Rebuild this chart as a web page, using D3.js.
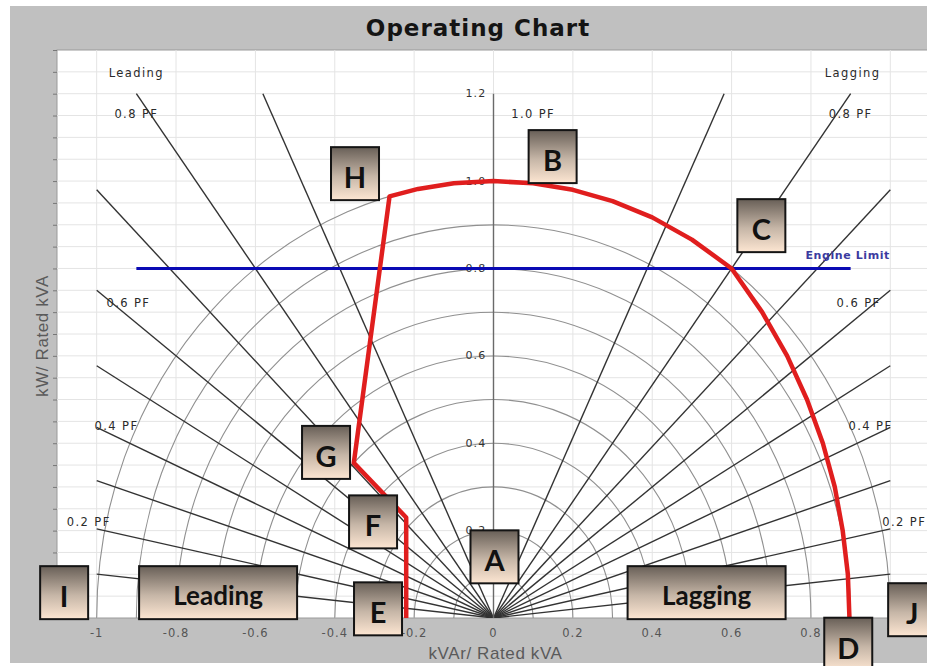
<!DOCTYPE html>
<html>
<head>
<meta charset="utf-8">
<script src="https://cdn.jsdelivr.net/npm/d3@7"></script>
<style>
  html, body { margin: 0; padding: 0; background: #ffffff; }
  svg { display: block; }
</style>
</head>
<body>
<svg id="chart" width="927" height="666"></svg>
<script>
// ---- data ----
const xTickValues = [-1, -0.8, -0.6, -0.4, -0.2, 0, 0.2, 0.4, 0.6, 0.8, 1];
const xTickLabels = ["-1", "-0.8", "-0.6", "-0.4", "-0.2", "0", "0.2", "0.4", "0.6", "0.8", "1"];
const yTickValues = [0.2, 0.4, 0.6, 0.8, 1.0, 1.2];
const yTickLabels = ["0.2", "0.4", "0.6", "0.8", "1.0", "1.2"];

// load circles (per-unit kVA)
const circleRadii = [0.1, 0.2, 0.3, 0.4, 0.5, 0.6, 0.7, 0.8, 0.9, 1.0];
// power-factor rays, drawn on both the leading and the lagging side
const powerFactors = [0.1, 0.2, 0.3, 0.4, 0.5, 0.6, 0.7, 0.8, 0.9];
const pfLabelValues = ["0.8 PF", "0.6 PF", "0.4 PF", "0.2 PF"];

// capability boundary (kVAr, kW) per-unit
const capX = [-0.22, -0.22, -0.352, -0.262, -0.19, -0.1, 0, 0.1, 0.2, 0.3, 0.4, 0.5, 0.6, 0.677, 0.74, 0.79, 0.83, 0.86, 0.88, 0.893, 0.897];
const capY = [0, 0.23, 0.355, 0.965, 0.982, 0.995, 1.0, 0.995, 0.98, 0.954, 0.917, 0.866, 0.8, 0.7, 0.6, 0.5, 0.4, 0.3, 0.2, 0.1, 0];

// engine limit
const engineLimitKW = 0.8;
const engineLimitSpan = [-0.9, 0.9];

// region markers
const markerNames = ["A", "B", "C", "D", "E", "F", "G", "H", "I", "J", "Leading", "Lagging"];
const markerX = [0.0025, 0.149, 0.675, 0.894, -0.291, -0.3035, -0.422, -0.349, -1.082, 1.055, -0.694, 0.537];
const markerY = [0.14, 1.056, 0.898, -0.06, 0.021, 0.22, 0.379, 1.017, 0.058, 0.019, 0.058, 0.058];

// ---- layout ----
const svg = d3.select("#chart");
const plot = { left: 57, top: 50, right: 930, bottom: 618 };
const x = d3.scaleLinear().domain([-1.1, 1.1]).range([plot.left, plot.right]);
const y = d3.scaleLinear().domain([0, 1.3]).range([plot.bottom, plot.top]);

const defs = svg.append("defs");
const grad = defs.append("linearGradient").attr("id", "boxFill")
  .attr("x1", 0).attr("y1", 0).attr("x2", 0).attr("y2", 1);
grad.append("stop").attr("offset", "0%").attr("stop-color", "#685f57");
grad.append("stop").attr("offset", "55%").attr("stop-color", "#c6b6a7");
grad.append("stop").attr("offset", "100%").attr("stop-color", "#fde6d2");
defs.append("clipPath").attr("id", "plotClip").append("rect")
  .attr("x", plot.left).attr("y", plot.top)
  .attr("width", plot.right - plot.left).attr("height", plot.bottom - plot.top);

// frame
svg.append("rect").attr("x", 10).attr("y", 6).attr("width", 917).attr("height", 657)
  .attr("fill", "#c0c0c0");
svg.append("rect").attr("x", plot.left).attr("y", plot.top)
  .attr("width", plot.right - plot.left).attr("height", plot.bottom - plot.top)
  .attr("fill", "#ffffff").attr("stroke", "#9a9a9a").attr("stroke-width", 1);

const g = svg.append("g").attr("clip-path", "url(#plotClip)");

// grid
const hGrid = d3.range(1, 26).map(i => i * 0.05);
g.selectAll(".hgrid").data(hGrid).join("line")
  .attr("x1", plot.left).attr("x2", plot.right)
  .attr("y1", d => y(d)).attr("y2", d => y(d))
  .attr("stroke", "#e4e4e4").attr("stroke-width", 1);
g.selectAll(".vgrid").data(xTickValues).join("line")
  .attr("x1", d => x(d)).attr("x2", d => x(d))
  .attr("y1", plot.top).attr("y2", plot.bottom)
  .attr("stroke", "#e4e4e4").attr("stroke-width", 1);

// left axis ticks
const yAxis = d3.axisLeft(y).tickValues(hGrid.concat([1.3])).tickSize(4).tickFormat("");
const yAxisG = svg.append("g").attr("transform", `translate(${plot.left},0)`).call(yAxis);
yAxisG.select(".domain").remove();
yAxisG.selectAll(".tick line").attr("stroke", "#777");

// load circles
g.selectAll(".arc").data(circleRadii).join("path")
  .attr("d", r => {
    const rx = x(r) - x(0), ry = y(0) - y(r);
    return `M${x(-r)},${y(0)} A${rx},${ry} 0 0 1 ${x(r)},${y(0)}`;
  })
  .attr("fill", "none").attr("stroke", "#909090").attr("stroke-width", 1.1);

// power-factor rays
const rays = [];
powerFactors.forEach(pf => {
  const s = Math.sqrt(1 - pf * pf);
  const t = Math.min(1.0 / s, 1.2 / pf);
  rays.push({ x: -s * t, y: pf * t });
  rays.push({ x: s * t, y: pf * t });
});
rays.push({ x: 0, y: 1.2 });
g.selectAll(".ray").data(rays).join("line")
  .attr("x1", x(0)).attr("y1", y(0))
  .attr("x2", d => x(d.x)).attr("y2", d => y(d.y))
  .attr("stroke", d => d.x === 0 ? "#6a6a6a" : "#333333")
  .attr("stroke-width", 1.4);

// y tick labels along the centre axis
svg.selectAll(".ylab").data(yTickValues).join("text")
  .attr("x", x(0) - 7).attr("y", d => y(d))
  .attr("text-anchor", "end").attr("dominant-baseline", "central")
  .attr("font-family", "DejaVu Sans, sans-serif").attr("font-size", 11)
  .attr("letter-spacing", 1.2).attr("fill", "#333")
  .text((d, i) => yTickLabels[i]);

// annotations of PF rays
const pfLabelRows = [1.153, 0.72, 0.44, 0.22];
const pfLabelLeft = [-0.9, -0.92, -0.95, -1.02];
const pfLabelRight = [0.9, 0.92, 0.95, 1.035];
const pfLabels = [];
pfLabelValues.forEach((t, i) => {
  pfLabels.push({ t, x: pfLabelLeft[i], y: pfLabelRows[i] });
  pfLabels.push({ t, x: pfLabelRight[i], y: pfLabelRows[i] });
});
pfLabels.push({ t: "1.0 PF", x: 0.1, y: 1.153 });
pfLabels.push({ t: "Leading", x: -0.9, y: 1.248 });
pfLabels.push({ t: "Lagging", x: 0.905, y: 1.248 });
svg.selectAll(".pflab").data(pfLabels).join("text")
  .attr("x", d => x(d.x)).attr("y", d => y(d.y))
  .attr("text-anchor", "middle").attr("dominant-baseline", "central")
  .attr("font-family", "DejaVu Sans, sans-serif").attr("font-size", 11.5)
  .attr("letter-spacing", 1.4).attr("fill", "#2a2a2a")
  .text(d => d.t);

// engine limit
svg.append("line")
  .attr("x1", x(engineLimitSpan[0])).attr("x2", x(engineLimitSpan[1]))
  .attr("y1", y(engineLimitKW)).attr("y2", y(engineLimitKW))
  .attr("stroke", "#0a0ab4").attr("stroke-width", 3);
svg.append("text")
  .attr("x", x(0.786)).attr("y", y(engineLimitKW) - 13)
  .attr("dominant-baseline", "central")
  .attr("font-family", "DejaVu Sans, sans-serif").attr("font-size", 11)
  .attr("font-weight", "bold").attr("letter-spacing", 0.6)
  .attr("fill", "#3b3ba0").text("Engine Limit");

// capability boundary
const capPts = capX.map((v, i) => [v, capY[i]]);
svg.append("path")
  .attr("d", d3.line().x(d => x(d[0])).y(d => y(d[1]))(capPts))
  .attr("fill", "none").attr("stroke", "#e01e1e").attr("stroke-width", 4.5)
  .attr("stroke-linejoin", "round");

// x tick labels
svg.selectAll(".xlab").data(xTickValues).join("text")
  .attr("x", d => x(d)).attr("y", 633)
  .attr("text-anchor", "middle").attr("dominant-baseline", "central")
  .attr("font-family", "DejaVu Sans, sans-serif").attr("font-size", 11.5)
  .attr("letter-spacing", 1).attr("fill", "#555")
  .text((d, i) => xTickLabels[i]);

// axis titles
svg.append("text")
  .attr("x", x(0) + 2).attr("y", 653)
  .attr("text-anchor", "middle").attr("dominant-baseline", "central")
  .attr("font-family", "Liberation Sans, Arial, sans-serif").attr("font-size", 17)
  .attr("letter-spacing", 0.6).attr("fill", "#5a5a5a")
  .text("kVAr/ Rated kVA");
svg.append("text")
  .attr("transform", "translate(42,336) rotate(-90)")
  .attr("text-anchor", "middle").attr("dominant-baseline", "central")
  .attr("font-family", "Liberation Sans, Arial, sans-serif").attr("font-size", 17)
  .attr("letter-spacing", 0.6).attr("fill", "#5a5a5a")
  .text("kW/ Rated kVA");

// title
svg.append("text")
  .attr("x", 478).attr("y", 28)
  .attr("text-anchor", "middle").attr("dominant-baseline", "central")
  .attr("font-family", "DejaVu Sans, sans-serif").attr("font-size", 23)
  .attr("font-weight", "bold").attr("letter-spacing", 1).attr("fill", "#141414")
  .text("Operating Chart");

// region markers
const markers = markerNames.map((n, i) => ({ n, cx: x(markerX[i]), cy: y(markerY[i]) }));
const mg = svg.selectAll(".marker").data(markers).join("g")
  .attr("transform", d => `translate(${d.cx},${d.cy})`);
mg.append("rect")
  .attr("x", d => -(d.n.length > 1 ? 158 : 48) / 2).attr("y", -26.5)
  .attr("width", d => d.n.length > 1 ? 158 : 48).attr("height", 53)
  .attr("fill", "url(#boxFill)").attr("stroke", "#141414").attr("stroke-width", 2);
mg.append("text")
  .attr("x", 0).attr("y", d => d.n.length > 1 ? 2 : 3)
  .attr("text-anchor", "middle").attr("dominant-baseline", "central")
  .attr("font-family", "Lato, Open Sans, sans-serif").attr("font-weight", "bold")
  .attr("font-size", d => d.n.length > 1 ? 26 : 29).attr("fill", "#111")
  .text(d => d.n);
</script>
</body>
</html>
